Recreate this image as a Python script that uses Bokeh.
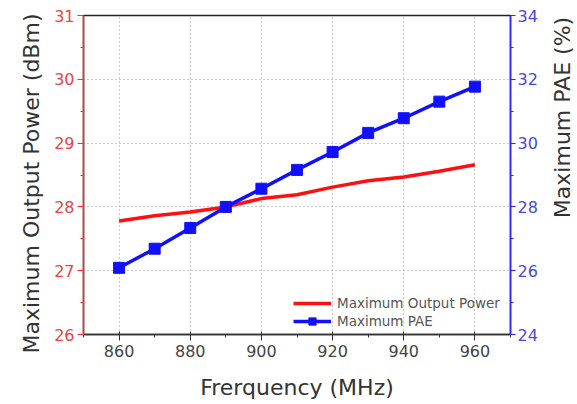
import math
from bokeh.plotting import figure
from bokeh.layouts import row
from bokeh.models import Range1d, LinearAxis, FixedTicker, Legend, LegendItem, Label, Title
from bokeh.embed import file_html
from bokeh.resources import INLINE

freq = [860, 870, 880, 890, 900, 910, 920, 930, 940, 950, 960]
power = [27.78, 27.86, 27.92, 28.00, 28.13, 28.19, 28.31, 28.41, 28.47, 28.56, 28.66]
pae = [26.09, 26.69, 27.34, 28.00, 28.57, 29.16, 29.72, 30.32, 30.78, 31.30, 31.77]

x_ticks = [860, 880, 900, 920, 940, 960]
left_ticks = [26, 27, 28, 29, 30, 31]
right_ticks = [24, 26, 28, 30, 32, 34]

x_title = "Frerquency (MHz)"
left_title = "Maximum Output Power (dBm)"
right_title = "Maximum PAE (%)"

FONT = "DejaVu Sans"
RED = "#ff2a2a"
BLUE = "#2a2aff"
H = 404
RW = 35


def title_fig(width, text, x, y):
    f = figure(width=width, height=H, output_backend="svg", toolbar_location=None,
               x_axis_type=None, y_axis_type=None, x_range=Range1d(0, 1), y_range=Range1d(0, 1),
               min_border=0, min_border_left=0, min_border_right=0,
               min_border_top=0, min_border_bottom=0)
    f.outline_line_color = None
    f.xgrid.visible = False
    f.ygrid.visible = False
    f.background_fill_color = "white"
    f.border_fill_color = "white"
    f.add_layout(Label(x=x, y=y, x_units="screen", y_units="screen", text=text,
                       angle=math.pi / 2, text_align="center", text_baseline="middle",
                       text_font=FONT, text_font_size="22px", text_color="#333333"))
    return f


p = figure(width=577 - RW, height=H, output_backend="svg", toolbar_location=None,
           x_range=Range1d(850, 970), y_range=Range1d(26, 31),
           min_border_left=83, min_border_right=577 - RW - 510,
           min_border_top=15, min_border_bottom=70)
p.extra_y_ranges = {"pae": Range1d(24, 34)}
p.outline_line_color = "#222222"
p.outline_line_width = 1.5
p.background_fill_color = "white"
p.border_fill_color = "white"

# x axis
xa = p.xaxis[0]
xa.ticker = FixedTicker(ticks=x_ticks, minor_ticks=list(range(850, 971, 10)))
xa.axis_label = x_title
xa.axis_label_text_font = FONT
xa.axis_label_text_font_size = "22px"
xa.axis_label_text_font_style = "normal"
xa.axis_label_text_color = "#333333"
xa.axis_label_standoff = 15
xa.major_label_text_font = FONT
xa.major_label_text_font_size = "16px"
xa.major_label_text_color = "#444444"
xa.axis_line_color = "#333333"
xa.axis_line_width = 1.5
xa.major_tick_line_color = "#333333"
xa.minor_tick_line_color = "#333333"
xa.major_tick_in = 3
xa.major_tick_out = 6
xa.minor_tick_in = 0
xa.minor_tick_out = 3
xa.major_label_standoff = 4

# left axis
ya = p.yaxis[0]
ya.ticker = FixedTicker(ticks=left_ticks, minor_ticks=[26.5, 27.5, 28.5, 29.5, 30.5])
ya.major_label_text_font = FONT
ya.major_label_text_font_size = "16px"
ya.major_label_text_color = "#e84545"
ya.axis_line_color = RED
ya.axis_line_width = 1.5
ya.major_tick_line_color = RED
ya.minor_tick_line_color = RED
ya.major_tick_in = 0
ya.major_tick_out = 6
ya.minor_tick_in = 0
ya.minor_tick_out = 3
ya.major_label_standoff = 3

# left title (offset downward like the reference)
lt = Title(text=left_title, align="left", offset=-19, vertical_align="middle",
           text_font=FONT, text_font_size="22px", text_font_style="normal",
           text_color="#333333", standoff=14)
p.add_layout(lt, "left")

# right axis
ra = LinearAxis(y_range_name="pae")
ra.ticker = FixedTicker(ticks=right_ticks, minor_ticks=[25, 27, 29, 31, 33])
ra.major_label_text_font = FONT
ra.major_label_text_font_size = "16px"
ra.major_label_text_color = "#4848e0"
ra.axis_line_color = BLUE
ra.axis_line_width = 1.5
ra.major_tick_line_color = BLUE
ra.minor_tick_line_color = BLUE
ra.major_tick_in = 0
ra.major_tick_out = 5
ra.minor_tick_in = 0
ra.minor_tick_out = 3
ra.major_label_standoff = 2
p.add_layout(ra, "right")

# grids
p.xgrid.ticker = FixedTicker(ticks=x_ticks)
p.ygrid.ticker = FixedTicker(ticks=left_ticks)
for g in (p.xgrid[0], p.ygrid[0]):
    g.grid_line_color = "#999999"
    g.grid_line_dash = "1 3"
    g.grid_line_width = 1

r1 = p.line(freq, power, line_color="#ff1010", line_width=3.5)
r2 = p.line(freq, pae, y_range_name="pae", line_color="#1010ff", line_width=3.5)
r3 = p.scatter(freq, pae, y_range_name="pae", marker="square", size=11,
               fill_color="#1010ff", line_color="#1010ff")

legend = Legend(items=[LegendItem(label="Maximum Output Power", renderers=[r1]),
                       LegendItem(label="Maximum PAE", renderers=[r2, r3])],
                location=(208, 2))
legend.background_fill_alpha = 0
legend.border_line_alpha = 0
legend.label_text_font = FONT
legend.label_text_font_size = "13.5px"
legend.label_text_color = "#555555"
legend.glyph_width = 38
legend.glyph_height = 18
legend.label_height = 18
legend.label_standoff = 6
legend.spacing = 0
legend.padding = 2
legend.margin = 0
p.add_layout(legend, "center")

right_fig = title_fig(RW, right_title, 562 - (577 - RW), H - 187)

layout = row(p, right_fig, spacing=0)
open("out.html", "w").write(file_html(layout, INLINE))
